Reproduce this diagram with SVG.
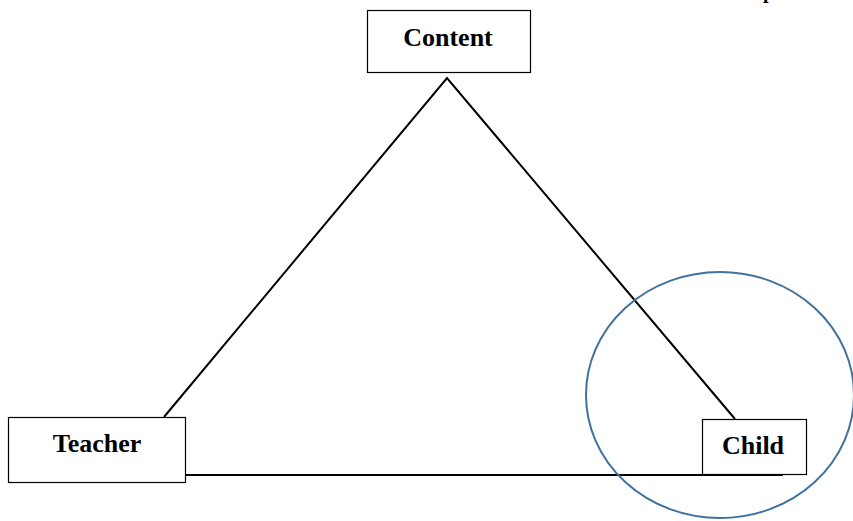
<svg xmlns="http://www.w3.org/2000/svg" width="853" height="521" viewBox="0 0 853 521">
<style>
.box{fill:#fff;stroke:#000;stroke-width:1.2}
.lbl{font-family:"Liberation Serif","Times New Roman",serif;font-weight:bold;font-size:26px;fill:#000;text-anchor:middle}
.edge{stroke:#000;stroke-width:2;fill:none}
</style>
<rect width="853" height="521" fill="#fff"/>
<text x="763" y="-2.5" style="font-family:'Liberation Serif',serif;font-size:20px;font-weight:bold">p</text>
<g id="connectors">
<polyline class="edge" points="164,417 447,78 735,419"/>
<line class="edge" x1="186" y1="475" x2="783" y2="475"/>
</g>
<g id="content">
<rect class="box" x="367.5" y="10.5" width="163" height="62"/>
<text class="lbl" x="448" y="46">Content</text>
</g>
<g id="teacher">
<rect class="box" x="8.5" y="417.5" width="177" height="65"/>
<text class="lbl" x="97" y="452">Teacher</text>
</g>
<g id="child">
<rect class="box" x="702.5" y="419.5" width="104" height="55"/>
<text class="lbl" x="753" y="454">Child</text>
</g>
<ellipse id="highlight" cx="720" cy="395" rx="134" ry="123" fill="none" stroke="#41719C" stroke-width="2"/>
</svg>
